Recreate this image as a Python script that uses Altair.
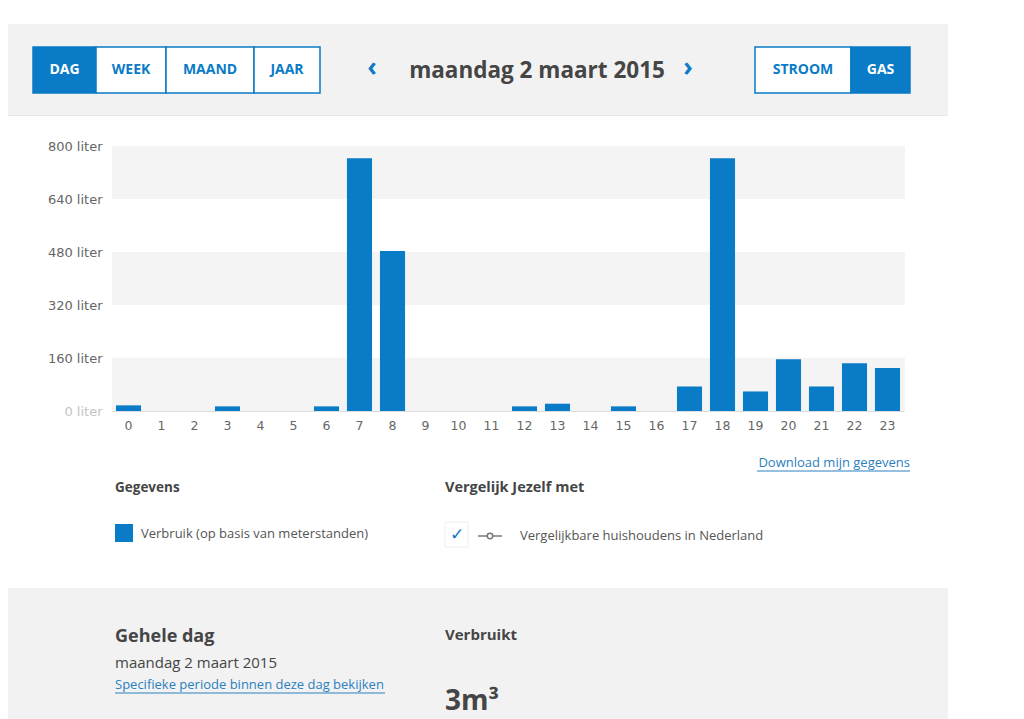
import pandas as pd
import altair as alt

# Gas usage per hour, maandag 2 maart 2015 (liter)
hours = [str(h) for h in range(24)]
liters = [17, 0, 0, 14, 0, 0, 14, 763, 483, 0, 0, 0,
          14, 22, 0, 14, 0, 74, 763, 59, 156, 74, 144, 130]

y_ticks = [0, 160, 320, 480, 640, 800]
band_lo = [0, 320, 640]
band_hi = [160, 480, 800]

period_buttons = ["DAG", "WEEK", "MAAND", "JAAR"]
energy_buttons = ["STROOM", "GAS"]

BLUE = "#0a7bc6"
LINK = "#2b80c0"
DARK = "#454545"
GREY_TXT = "#555555"
FONT = "Open Sans"

# plot area origin in page pixels (used for placing the page furniture around the chart)
OX, OY = 112, 146


def px(x):
    return x - OX


def py(y):
    return y - OY


df = pd.DataFrame({"uur": hours, "liter": liters})
bands = pd.DataFrame({"lo": band_lo, "hi": band_hi})
one = pd.DataFrame({"k": [0]})

# alternating grey bands behind the bars
band_layer = alt.Chart(bands).mark_rect(color="#f4f4f4").encode(
    y=alt.Y("lo:Q", scale=alt.Scale(domain=[0, 800])),
    y2="hi:Q",
    x=alt.value(0),
    x2=alt.value(793),
)

bars = alt.Chart(df).mark_bar(color=BLUE).encode(
    x=alt.X("uur:N", sort=hours, title=None,
            scale=alt.Scale(paddingInner=0.24, paddingOuter=0.12),
            axis=alt.Axis(labelAngle=0, ticks=False, domainColor="#dddddd",
                          labelFont="DejaVu Sans", labelFontSize=12.5,
                          labelColor="#666666", labelPadding=8)),
    y=alt.Y("liter:Q", title=None,
            scale=alt.Scale(domain=[0, 800]),
            axis=alt.Axis(values=y_ticks, grid=False, ticks=False, domain=False,
                          labelExpr="datum.value + ' liter'",
                          labelFont="DejaVu Sans", labelFontSize=13,
                          labelPadding=10,
                          labelColor={"condition": {"test": "datum.value === 0", "value": "#c4c4c4"},
                                      "value": "#666666"})),
)


def box(x1, x2, y1, y2, fill, stroke=None, sw=1.5):
    kw = {"fill": fill}
    if stroke:
        kw.update(stroke=stroke, strokeWidth=sw)
    return alt.Chart(one).mark_rect(**kw).encode(
        x=alt.value(px(x1)), x2=alt.value(px(x2)),
        y=alt.value(py(y1)), y2=alt.value(py(y2)),
    )


def label(txt, x, y, size=13, color=DARK, weight="normal", align="left", font=FONT):
    return alt.Chart(one).mark_text(
        text=txt, fontSize=size, color=color, fontWeight=weight,
        align=align, baseline="middle", font=font,
    ).encode(x=alt.value(px(x)), y=alt.value(py(y)))


def hline(x1, x2, y, color, w=1):
    return alt.Chart(one).mark_rule(color=color, strokeWidth=w).encode(
        x=alt.value(px(x1)), x2=alt.value(px(x2)), y=alt.value(py(y)))


layers = []

# header panel
layers.append(box(8, 948, 24, 115, "#f2f2f2"))
layers.append(hline(8, 948, 115.5, "#e8e8e8", 1))

# period buttons
p_edges = [33, 96, 166, 254, 320]
for i, name in enumerate(period_buttons):
    sel = i == 0
    layers.append(box(p_edges[i], p_edges[i + 1], 47, 93,
                      BLUE if sel else "white", BLUE))
    layers.append(label(name, (p_edges[i] + p_edges[i + 1]) / 2, 70, size=14,
                        color="white" if sel else BLUE, weight="bold", align="center"))

# energy buttons
e_edges = [755, 851, 910]
for i, name in enumerate(energy_buttons):
    sel = i == 1
    layers.append(box(e_edges[i], e_edges[i + 1], 47, 93,
                      BLUE if sel else "white", BLUE))
    layers.append(label(name, (e_edges[i] + e_edges[i + 1]) / 2, 70, size=14,
                        color="white" if sel else BLUE, weight="bold", align="center"))

# date navigation
layers.append(label("‹", 372, 68, size=26, color=BLUE, weight="bold", align="center"))
layers.append(label("›", 688, 68, size=26, color=BLUE, weight="bold", align="center"))
layers.append(label("maandag 2 maart 2015", 537, 71, size=22.5, color=DARK,
                    weight="bold", align="center"))

# below the chart
layers.append(label("Download mijn gegevens", 910, 463, size=13, color=LINK, align="right"))
layers.append(hline(757, 910, 471, LINK, 1))

layers.append(label("Gegevens", 115, 488, size=13.5, weight="bold"))
layers.append(label("Vergelijk Jezelf met", 445, 488, size=14.5, weight="bold"))

layers.append(box(115, 133, 524, 542, BLUE))
layers.append(label("Verbruik (op basis van meterstanden)", 141, 534, size=13, color=GREY_TXT))

layers.append(box(445, 468, 522, 547, "white", "#eeeeee", 1))
layers.append(label("✓", 457, 535, size=17, color=BLUE, weight="bold", align="center",
                    font="DejaVu Sans"))
layers.append(hline(478, 502, 536, "#777777", 1.5))
layers.append(alt.Chart(one).mark_point(shape="circle", size=30, fill="white",
                                        stroke="#777777", strokeWidth=1.5, filled=False,
                                        opacity=1).encode(
    x=alt.value(px(490)), y=alt.value(py(536))))
layers.append(label("Vergelijkbare huishoudens in Nederland", 520, 536, size=13, color=GREY_TXT))

# bottom summary panel
layers.append(box(8, 948, 588, 740, "#f2f2f2"))
layers.append(label("Gehele dag", 115, 637, size=18, weight="bold"))
layers.append(label("maandag 2 maart 2015", 115, 663, size=15, color=DARK))
layers.append(label("Specifieke periode binnen deze dag bekijken", 115, 685, size=13, color=LINK))
layers.append(hline(115, 385, 693, LINK, 1))
layers.append(label("Verbruikt", 445, 635, size=15, weight="bold"))
layers.append(label("3m³", 445, 702, size=28, weight="bold"))

chart = alt.layer(band_layer, bars, *layers).properties(
    width=792,
    height=265,
    autosize=alt.AutoSizeParams(type="none"),
    padding={"left": OX - 8, "top": OY - 8, "right": 86, "bottom": 308},
    background="white",
).configure_view(stroke=None)

chart.save("out.html", embed_options={"renderer": "svg", "actions": False})
